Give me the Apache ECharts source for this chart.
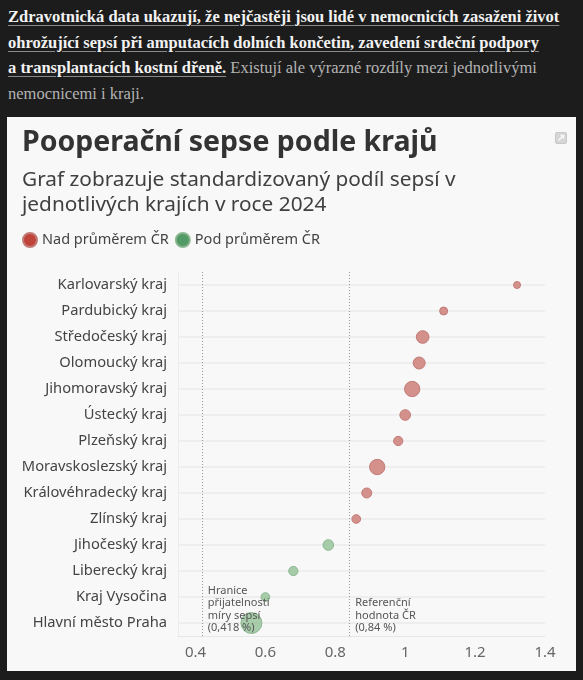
<!DOCTYPE html>
<html>
<head>
<meta charset="utf-8">
<script src="https://cdn.jsdelivr.net/npm/echarts@6/dist/echarts.min.js"></script>
<style>
  html, body { margin: 0; padding: 0; background: #1c1c1c; width: 583px; height: 680px; overflow: hidden; }
  #text { position: absolute; left: 8px; top: 4px; width: 575px; white-space: nowrap; font-family: "Liberation Serif", serif; font-size: 16.5px; line-height: 25.5px; color: #b4b4b4; }
  #text b { color: #f2f2f2; text-decoration: underline; text-decoration-color: #888; text-underline-offset: 3px; }
  #panel { position: absolute; left: 7px; top: 117px; width: 569px; height: 554px; background: #f8f8f8; }
</style>
</head>
<body>
<div id="text"><b>Zdravotnická data ukazují, že nejčastěji jsou lidé v nemocnicích zasaženi život<br>ohrožující sepsí při amputacích dolních končetin, zavedení srdeční podpory<br>a transplantacích kostní dřeně.</b> Existují ale výrazné rozdíly mezi jednotlivými<br>nemocnicemi i kraji.</div>
<div id="panel"></div>
<script>
// data
var kraje = ['Karlovarský kraj', 'Pardubický kraj', 'Středočeský kraj', 'Olomoucký kraj',
  'Jihomoravský kraj', 'Ústecký kraj', 'Plzeňský kraj', 'Moravskoslezský kraj',
  'Královéhradecký kraj', 'Zlínský kraj', 'Jihočeský kraj', 'Liberecký kraj',
  'Kraj Vysočina', 'Hlavní město Praha'];
var podil = [1.32, 1.11, 1.05, 1.04, 1.02, 1.00, 0.98, 0.92, 0.89, 0.86, 0.78, 0.68, 0.60, 0.56];
// relativni velikost kraje (plocha bubliny)
var velikost = [49, 64, 161, 144, 234, 114, 86, 234, 100, 76, 114, 86, 76, 441];
var hranice = 0.418;   // hranice prijatelnosti
var reference = 0.84;  // referencni hodnota CR
var xTicks = [0.4, 0.6, 0.8, 1, 1.2, 1.4];

var nad = [], pod = [];
kraje.forEach(function (k, i) {
  var bod = [podil[i], k, velikost[i]];
  if (podil[i] > reference) nad.push(bod); else pod.push(bod);
});

var font = '"Noto Sans", sans-serif';
var chart = echarts.init(document.getElementById('panel'));

var option = {
  backgroundColor: '#f8f8f8',
  animation: false,
  textStyle: { fontFamily: font },
  title: [{
    text: 'Pooperační sepse podle krajů',
    left: 15, top: 11, padding: 0,
    textStyle: { fontSize: 28.5, fontWeight: 'bold', color: '#333', fontFamily: font }
  }, {
    text: 'Graf zobrazuje standardizovaný podíl sepsí v\njednotlivých krajích v roce 2024',
    left: 15, top: 51, padding: 0,
    textStyle: { fontSize: 20.8, fontWeight: 'normal', color: '#404040', lineHeight: 25, fontFamily: font }
  }],
  legend: {
    left: 15, top: 115, padding: 0,
    icon: 'circle', itemWidth: 14, itemHeight: 14, itemGap: 6,
    textStyle: { fontSize: 14.5, color: '#444', fontFamily: font },
    data: [
      { name: 'Nad průměrem ČR', itemStyle: { color: '#c0443a' } },
      { name: 'Pod průměrem ČR', itemStyle: { color: '#3f8f55' } }
    ]
  },
  graphic: [{
    type: 'group', right: 9, top: 15,
    children: [{
      type: 'rect',
      shape: { x: 0, y: 0, width: 11, height: 11, r: 1.5 },
      style: { fill: '#d6d6d6', stroke: '#c8c8c8', lineWidth: 1 }
    }, {
      type: 'polyline',
      shape: { points: [[3, 8], [8, 3]] },
      style: { stroke: '#f8f8f8', lineWidth: 1.4 }
    }, {
      type: 'polyline',
      shape: { points: [[5, 3], [8, 3], [8, 6]] },
      style: { stroke: '#f8f8f8', lineWidth: 1.4, fill: 'none' }
    }]
  }],
  grid: { left: 171, right: 31, top: 155, bottom: 35 },
  xAxis: {
    type: 'value',
    min: 0.35, max: 1.4, interval: 0.05,
    axisLine: { show: true, lineStyle: { color: '#e6e6e6' } },
    axisTick: { show: false },
    splitLine: { show: false },
    axisLabel: {
      margin: 9, fontSize: 15, color: '#666', fontFamily: font,
      formatter: function (v) {
        for (var i = 0; i < xTicks.length; i++) {
          if (Math.abs(v - xTicks[i]) < 1e-6) return String(xTicks[i]);
        }
        return '';
      }
    }
  },
  yAxis: {
    type: 'category',
    data: kraje,
    inverse: true,
    axisLine: { show: true, lineStyle: { color: '#ececec' } },
    axisTick: { show: false },
    splitLine: { show: false },
    axisLabel: { margin: 11, fontSize: 14.7, color: '#444', fontFamily: font }
  },
  series: [{
    // vodorovne linky a referencni cary
    type: 'scatter',
    data: [],
    z: 1,
    silent: true,
    markLine: {
      z: 1,
      symbol: 'none',
      silent: true,
      label: { show: false },
      data: kraje.map(function (k, i) {
        return { yAxis: i, lineStyle: { color: '#ebebeb', width: 1.5, type: 'solid' } };
      }).concat([
        { xAxis: hranice, lineStyle: { color: '#9a9a9a', width: 1, type: [1, 2] } },
        { xAxis: reference, lineStyle: { color: '#9a9a9a', width: 1, type: [1, 2] } }
      ])
    }
  }, {
    name: 'Nad průměrem ČR',
    type: 'scatter',
    z: 10,
    data: nad,
    symbolSize: function (d) { return Math.sqrt(d[2]); },
    itemStyle: { color: '#d4908b', borderColor: '#c27c77', borderWidth: 1, opacity: 1 }
  }, {
    name: 'Pod průměrem ČR',
    type: 'scatter',
    z: 10,
    data: pod,
    symbolSize: function (d) { return Math.sqrt(d[2]); },
    itemStyle: { color: '#9dc6a1', borderColor: '#86b48b', borderWidth: 1, opacity: 0.9 }
  }, {
    // popisky referencnich car
    type: 'scatter',
    data: [],
    z: 12,
    silent: true,
    markPoint: {
      z: 12,
      symbol: 'circle', symbolSize: 0,
      label: {
        show: true, position: [6, 11], align: 'left', verticalAlign: 'bottom',
        fontSize: 11, lineHeight: 12.3, color: '#555', fontFamily: font
      },
      data: [
        { coord: [hranice, kraje.length - 1], label: { formatter: 'Hranice\npřijatelnosti\nmíry sepsí\n(0,418 %)' } },
        { coord: [reference, kraje.length - 1], label: { formatter: 'Referenční\nhodnota ČR\n(0,84 %)' } }
      ]
    }
  }]
};

chart.setOption(option);
</script>
</body>
</html>
